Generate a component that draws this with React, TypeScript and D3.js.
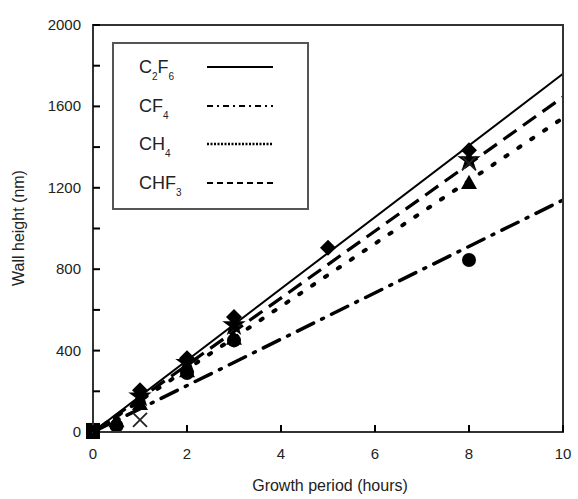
import React from "react";
import * as d3 from "d3";

const xTicks = [0, 2, 4, 6, 8, 10];
const yTicksMajor = [0, 400, 800, 1200, 1600, 2000];
const yTicksMinor = [200, 600, 1000, 1400, 1800];

const fitNames = ["C2F6", "CHF3", "CH4", "CF4"];
const fitAt10 = [1760, 1646, 1543, 1140];

const c2f6Points: [number, number][] = [[1, 205], [2, 362], [3, 565], [5, 905], [8, 1385]];
const chf3Points: [number, number][] = [[1, 175], [2, 340], [3, 525], [8, 1336]];
const ch4Points: [number, number][] = [[0.5, 55], [1, 140], [2, 300], [3, 460], [8, 1225]];
const cf4Points: [number, number][] = [[0.5, 30], [2, 290], [3, 450], [8, 845]];
const crossPoints: [number, number][] = [[1, 60], [8, 1320]];
const originPoints: [number, number][] = [[0, 0], [0, 10]];

const legendLabels = [
  { parts: [["C", ""], ["2", "sub"], ["F", ""], ["6", "sub"]] },
  { parts: [["CF", ""], ["4", "sub"]] },
  { parts: [["CH", ""], ["4", "sub"]] },
  { parts: [["CHF", ""], ["3", "sub"]] },
];

const W = 578, H = 499;
const x = d3.scaleLinear().domain([0, 10]).range([93, 563]);
const y = d3.scaleLinear().domain([0, 2000]).range([432, 25]);

const fitStyles: Record<string, { dash: string; width: number; cap: string }> = {
  C2F6: { dash: "", width: 2, cap: "butt" },
  CHF3: { dash: "16 8", width: 3.2, cap: "butt" },
  CH4: { dash: "2.5 13", width: 4, cap: "round" },
  CF4: { dash: "18 9 2 9", width: 3.5, cap: "round" },
};

const legendStyles = [
  { dash: "", width: 2.2 },
  { dash: "6 4 2 4", width: 2 },
  { dash: "2 1.5", width: 2.6 },
  { dash: "6 4", width: 2.2 },
];

const line = d3.line<[number, number]>().x((d) => x(d[0])).y((d) => y(d[1]));

function Diamond({ cx, cy }: { cx: number; cy: number }) {
  const s = 8;
  return <path d={`M${cx},${cy - s}L${cx + s},${cy}L${cx},${cy + s}L${cx - s},${cy}Z`} fill="#000" />;
}
function Triangle({ cx, cy }: { cx: number; cy: number }) {
  const s = 8;
  return <path d={`M${cx},${cy - s}L${cx + s},${cy + s * 0.8}L${cx - s},${cy + s * 0.8}Z`} fill="#000" />;
}
function Star({ cx, cy }: { cx: number; cy: number }) {
  const p = d3.symbol().type(d3.symbolStar).size(170)();
  return <path d={p || ""} transform={`translate(${cx},${cy})`} fill="#000" />;
}
function Cross({ cx, cy }: { cx: number; cy: number }) {
  const s = 7;
  return (
    <path d={`M${cx - s},${cy - s}L${cx + s},${cy + s}M${cx + s},${cy - s}L${cx - s},${cy + s}`} stroke="#222" strokeWidth={1.8} />
  );
}

export default function App() {
  const font = "'Liberation Sans', Arial, sans-serif";
  return (
    <svg
      width={W}
      height={H}
      style={{ position: "fixed", left: 0, top: 0, display: "block", background: "#fff" }}
      fontFamily={font}
    >
      <defs>
        <clipPath id="plotclip">
          <rect x={93} y={25} width={470} height={407} />
        </clipPath>
      </defs>
      <g clipPath="url(#plotclip)">
        {fitNames.map((n, i) => {
          const st = fitStyles[n];
          return (
            <path
              key={n}
              d={line([[0, 0], [10, fitAt10[i]]]) || ""}
              fill="none"
              stroke="#000"
              strokeWidth={st.width}
              strokeDasharray={st.dash}
              strokeLinecap={st.cap as any}
            />
          );
        })}
      </g>
      {cf4Points.map((d, i) => (
        <circle key={"c" + i} cx={x(d[0])} cy={y(d[1])} r={7} fill="#000" />
      ))}
      {ch4Points.map((d, i) => (
        <Triangle key={"t" + i} cx={x(d[0])} cy={y(d[1])} />
      ))}
      {chf3Points.map((d, i) => (
        <Star key={"s" + i} cx={x(d[0])} cy={y(d[1])} />
      ))}
      {c2f6Points.map((d, i) => (
        <Diamond key={"d" + i} cx={x(d[0])} cy={y(d[1])} />
      ))}
      {crossPoints.map((d, i) => (
        <Cross key={"x" + i} cx={x(d[0])} cy={y(d[1])} />
      ))}
      {originPoints.map((d, i) => (
        <rect key={"o" + i} x={x(d[0]) - 7} y={y(d[1]) - 7} width={14} height={14} fill="#000" />
      ))}
      <rect x={93} y={25} width={470} height={407} fill="none" stroke="#333" strokeWidth={2} />
      {xTicks.map((t) => (
        <g key={"xt" + t}>
          <line x1={x(t)} x2={x(t)} y1={432} y2={425} stroke="#000" strokeWidth={2} />
          <text x={x(t)} y={459} textAnchor="middle" fontSize={15} fill="#222">
            {t}
          </text>
        </g>
      ))}
      {yTicksMajor.map((t) => (
        <g key={"ym" + t}>
          <line x1={93} x2={100} y1={y(t)} y2={y(t)} stroke="#000" strokeWidth={2} />
          <text x={81} y={y(t) + 5} textAnchor="end" fontSize={15} fill="#222">
            {t}
          </text>
        </g>
      ))}
      {yTicksMinor.map((t) => (
        <line key={"yn" + t} x1={93} x2={100} y1={y(t)} y2={y(t)} stroke="#000" strokeWidth={2} />
      ))}
      <text x={330} y={491} textAnchor="middle" fontSize={16} fill="#222">
        Growth period (hours)
      </text>
      <text transform="translate(24,228) rotate(-90)" textAnchor="middle" fontSize={16} fill="#222">
        Wall height (nm)
      </text>
      <rect x={113} y={43} width={195} height={166} fill="#fff" stroke="#555" strokeWidth={2} />
      {legendLabels.map((lab, i) => {
        const ly = [67, 106, 144, 183][i];
        const st = legendStyles[i];
        return (
          <g key={"lg" + i}>
            <text x={139} y={ly + 6} fontSize={18} fill="#222">
              {lab.parts.map((p, j) =>
                p[1] === "sub" ? (
                  <tspan key={j} fontSize={10} dy={7}>
                    {p[0]}
                  </tspan>
                ) : (
                  <tspan key={j} dy={j > 0 ? -7 : 0}>
                    {p[0]}
                  </tspan>
                )
              )}
            </text>
            <line x1={207} x2={273} y1={ly} y2={ly} stroke="#000" strokeWidth={st.width} strokeDasharray={st.dash} />
          </g>
        );
      })}
    </svg>
  );
}
